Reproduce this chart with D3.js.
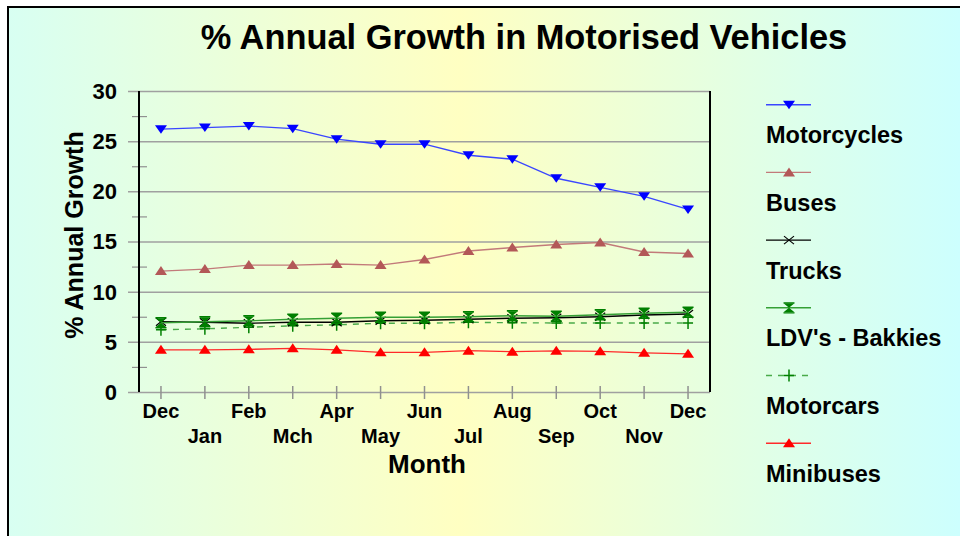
<!DOCTYPE html>
<html>
<head>
<meta charset="utf-8">
<script src="https://cdn.jsdelivr.net/npm/d3@7"></script>
<style>
  body { margin: 0; background: #fff; }
  svg { display: block; font-family: "Liberation Sans", Arial, sans-serif; font-weight: bold; }
</style>
</head>
<body>
<div class="container"></div>
<script>
// chart values
const months = ["Dec","Jan","Feb","Mch","Apr","May","Jun","Jul","Aug","Sep","Oct","Nov","Dec"];
const motorcycles = [26.2,26.35,26.5,26.25,25.2,24.7,24.7,23.6,23.2,21.3,20.4,19.5,18.2];
const buses = [12.05,12.25,12.65,12.65,12.75,12.65,13.2,14.05,14.4,14.7,14.9,13.95,13.8];
const trucks = [7.0,6.95,6.85,6.95,6.95,7.1,7.15,7.25,7.35,7.4,7.5,7.68,7.78];
const ldvs = [6.9,7.0,7.1,7.25,7.35,7.45,7.45,7.5,7.6,7.55,7.7,7.85,7.95];
const motorcars = [6.2,6.3,6.45,6.6,6.7,6.85,6.85,6.95,6.9,6.88,6.88,6.88,6.88];
const minibuses = [4.2,4.2,4.25,4.35,4.2,3.95,3.95,4.12,4.02,4.1,4.05,3.9,3.8];
const yTicks = [0,5,10,15,20,25,30];

const seriesNames = ["Motorcycles","Buses","Trucks","LDV's - Bakkies","Motorcars","Minibuses"];
const seriesValues = [motorcycles, buses, trucks, ldvs, motorcars, minibuses];

// styling per series
const styles = [
    {line:"#3a46ff", fill:"#0000ff", marker:"down", dash:null},
    {line:"#c27a7a", fill:"#b35858", marker:"up", dash:null},
    {line:"#000000", fill:"#000000", marker:"x", dash:null},
    {line:"#35a035", fill:"#007f00", marker:"hourglass", dash:null},
    {line:"#4aaa4a", fill:"#008000", marker:"plus", dash:"6,6"},
    {line:"#ff2a2a", fill:"#ff0000", marker:"up", dash:null}
];

const W = 960, H = 536;
const plot = {left:139, right:710, top:91, bottom:392};

const svg = d3.select("div.container").append("svg")
    .attr("width", W)
    .attr("height", H);

// background gradient
const grad = svg.append("defs").append("linearGradient")
    .attr("id","bg").attr("x1","0%").attr("x2","100%").attr("y1","0%").attr("y2","0%");
grad.append("stop").attr("offset","0%").attr("stop-color","#d8fff2");
grad.append("stop").attr("offset","47%").attr("stop-color","#ffffc2");
grad.append("stop").attr("offset","100%").attr("stop-color","#ccffff");

svg.append("rect")
    .attr("x",8).attr("y",7)
    .attr("width",W).attr("height",H)
    .attr("fill","url(#bg)")
    .attr("stroke","#000")
    .attr("stroke-width",2);

// title
svg.append("text")
    .attr("x",524).attr("y",49)
    .attr("text-anchor","middle")
    .style("font-size","34.4px")
    .text("% Annual Growth in Motorised Vehicles");

// scales
const x = d3.scaleBand()
    .domain(d3.range(months.length))
    .range([plot.left, plot.right])
    .padding(0);
const xc = i => x(i) + x.bandwidth()/2;

const y = d3.scaleLinear()
    .domain([0,30])
    .range([plot.bottom, plot.top]);

// gridlines with major ticks crossing the axis
const grid = svg.append("g")
    .attr("transform",`translate(128,0)`)
    .call(d3.axisLeft(y).tickValues(yTicks).tickSize(-(plot.right-128)).tickFormat(""));
grid.select(".domain").remove();
grid.selectAll("line").attr("stroke","#a0a0a0").attr("stroke-width",1.5);

// minor ticks
const minor = svg.append("g")
    .attr("transform",`translate(147,0)`)
    .call(d3.axisLeft(y).tickValues(d3.range(2.5,30,5)).tickSize(15).tickFormat(""));
minor.select(".domain").remove();
minor.selectAll("line").attr("stroke","#909090").attr("stroke-width",1.2);

// y tick labels
svg.append("g").selectAll("text")
    .data(yTicks)
    .enter()
    .append("text")
    .attr("x",117)
    .attr("y",d=>y(d))
    .attr("dy","0.36em")
    .attr("text-anchor","end")
    .style("font-size","22px")
    .text(d=>d);

// x ticks
const xAxis = svg.append("g")
    .attr("transform",`translate(0,399)`)
    .call(d3.axisTop(x).tickSize(13).tickFormat(""));
xAxis.select(".domain").remove();
xAxis.selectAll("line").attr("stroke","#909090").attr("stroke-width",1.5);

// x tick labels on two rows
svg.append("g").selectAll("text")
    .data(months)
    .enter()
    .append("text")
    .attr("x",(d,i)=>xc(i))
    .attr("y",(d,i)=> i%2===0 ? 418 : 443)
    .attr("text-anchor","middle")
    .style("font-size","20px")
    .text(d=>d);

// left & right frame lines
svg.append("line")
    .attr("x1",plot.left).attr("x2",plot.left)
    .attr("y1",plot.top).attr("y2",plot.bottom)
    .attr("stroke","#000").attr("stroke-width",2);
svg.append("line")
    .attr("x1",plot.right).attr("x2",plot.right)
    .attr("y1",plot.top).attr("y2",plot.bottom)
    .attr("stroke","#000").attr("stroke-width",2);

// axis titles
svg.append("text")
    .attr("x",427).attr("y",473)
    .attr("text-anchor","middle")
    .style("font-size","26px")
    .text("Month");
svg.append("text")
    .attr("transform",`translate(83,235) rotate(-90)`)
    .attr("text-anchor","middle")
    .style("font-size","25px")
    .text("% Annual Growth");

// marker drawing
function drawMarker(g, type, cx, cy, st) {
    if (type==="down") {
        g.append("path").attr("d",`M${cx-6},${cy-4}L${cx+6},${cy-4}L${cx},${cy+4.5}Z`).attr("fill",st.fill);
    } else if (type==="up") {
        g.append("path").attr("d",`M${cx-6},${cy+4}L${cx+6},${cy+4}L${cx},${cy-5}Z`).attr("fill",st.fill);
    } else if (type==="x") {
        g.append("path").attr("d",`M${cx-5},${cy-4}L${cx+5},${cy+4}M${cx-5},${cy+4}L${cx+5},${cy-4}`)
            .attr("stroke",st.fill).attr("stroke-width",1.2);
    } else if (type==="hourglass") {
        g.append("path").attr("d",`M${cx-5.5},${cy-4.5}L${cx+5.5},${cy-4.5}L${cx},${cy}Z M${cx-5.5},${cy+4.5}L${cx+5.5},${cy+4.5}L${cx},${cy}Z`)
            .attr("fill",st.fill);
        g.append("path").attr("d",`M${cx-5.5},${cy-5}L${cx+5.5},${cy-5}M${cx-5.5},${cy+5}L${cx+5.5},${cy+5}`)
            .attr("stroke",st.fill).attr("stroke-width",1.3);
    } else if (type==="plus") {
        g.append("path").attr("d",`M${cx-5},${cy}L${cx+5},${cy}M${cx},${cy-6}L${cx},${cy+6}`)
            .attr("stroke",st.fill).attr("stroke-width",1.5);
    }
}

const line = d3.line()
    .x((d,i)=>xc(i))
    .y(d=>y(d));

// series lines, drawn bottom to top
const order = [5,4,2,3,1,0];
order.forEach(k=>{
    const st = styles[k];
    const g = svg.append("g");
    g.append("path")
        .datum(seriesValues[k])
        .attr("d",line)
        .attr("fill","none")
        .attr("stroke",st.line)
        .attr("stroke-width",1.4)
        .attr("stroke-dasharray",st.dash);
    seriesValues[k].forEach((v,i)=>drawMarker(g, st.marker, xc(i), y(v), st));
});

// legend
const legend = svg.append("g").attr("id","legend");
seriesNames.forEach((name,k)=>{
    const st = styles[k];
    const ly = 104.7 + k*67.7;
    const g = legend.append("g");
    g.append("line")
        .attr("x1",766).attr("x2",811)
        .attr("y1",ly).attr("y2",ly)
        .attr("stroke",st.line)
        .attr("stroke-width",1.4)
        .attr("stroke-dasharray",st.dash);
    drawMarker(g, st.marker, 789, ly, st);
    g.append("text")
        .attr("x",766).attr("y",ly+38.5)
        .style("font-size","23.5px")
        .text(name);
});
</script>
</body>
</html>
